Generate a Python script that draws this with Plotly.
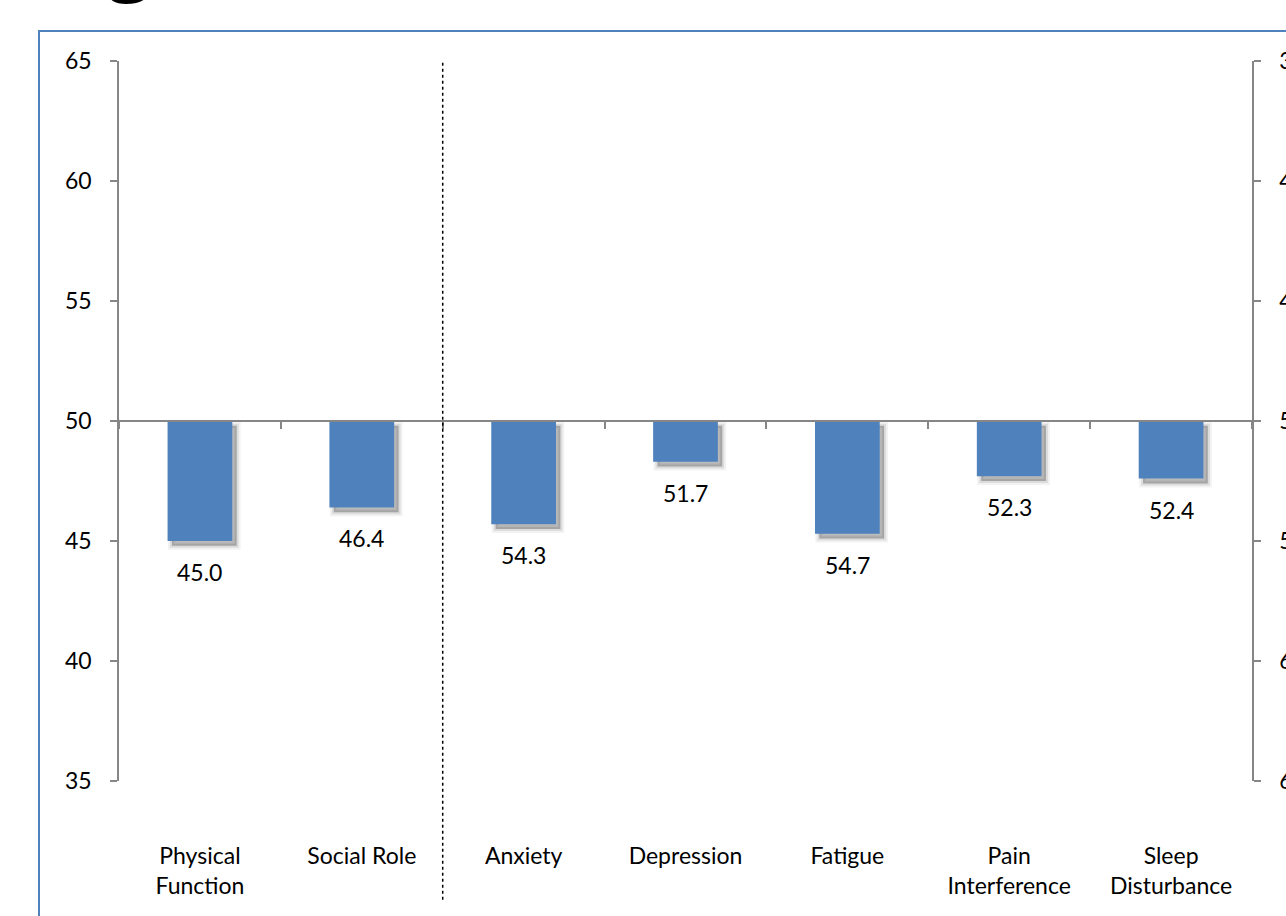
import plotly.graph_objects as go

# ---- data ----
categories = ["Physical Function", "Social Role", "Anxiety", "Depression",
              "Fatigue", "Pain Interference", "Sleep Disturbance"]
tick_labels = ["Physical<br>Function", "Social Role", "Anxiety", "Depression",
               "Fatigue", "Pain<br>Interference", "Sleep<br>Disturbance"]
left_categories = ["Physical Function", "Social Role"]
left_values = [45.0, 46.4]
right_categories = ["Anxiety", "Depression", "Fatigue", "Pain Interference", "Sleep Disturbance"]
right_values = [54.3, 51.7, 54.7, 52.3, 52.4]
reference_value = 50
left_ticks = [35, 40, 45, 50, 55, 60, 65]
right_ticks = [35, 40, 45, 50, 55, 60, 65]
heading_fragment = "g"   # cut-off heading above the chart

# ---- style ----
BAR_COLOR = "#4F81BD"
AXIS_COLOR = "#868686"
FONT = "Lato"
FS = 23
BAR_W = 0.4
SH_DX = 0.027      # shadow offset in category units
SH_DY = 0.2        # shadow offset in value units

fig = go.Figure()

# soft shadows (layers from wide/faint to core)
shadow_layers = [(8, "rgba(0,0,0,0.05)"), (4, "rgba(0,0,0,0.09)"), (0, "rgba(0,0,0,0)")]
for lw, lc in shadow_layers:
    core = "rgba(0,0,0,0.25)" if lw == 0 else "rgba(0,0,0,0.0)"
    fig.add_trace(go.Bar(
        x=left_categories, y=[v - reference_value for v in left_values],
        base=reference_value - SH_DY, width=BAR_W, offset=-BAR_W / 2 + SH_DX,
        marker=dict(color=core, line=dict(color=lc, width=lw)),
        yaxis="y", hoverinfo="skip", showlegend=False))
    fig.add_trace(go.Bar(
        x=right_categories, y=[v - reference_value for v in right_values],
        base=reference_value + SH_DY, width=BAR_W, offset=-BAR_W / 2 + SH_DX,
        marker=dict(color=core, line=dict(color=lc, width=lw)),
        yaxis="y2", hoverinfo="skip", showlegend=False))

# bars
fig.add_trace(go.Bar(
    x=left_categories, y=[v - reference_value for v in left_values],
    base=reference_value, width=BAR_W, offset=-BAR_W / 2,
    marker=dict(color=BAR_COLOR, line=dict(width=0)),
    yaxis="y", showlegend=False))
fig.add_trace(go.Bar(
    x=right_categories, y=[v - reference_value for v in right_values],
    base=reference_value, width=BAR_W, offset=-BAR_W / 2,
    marker=dict(color=BAR_COLOR, line=dict(width=0)),
    yaxis="y2", showlegend=False))

annotations = []
for c, v in zip(left_categories, left_values):
    annotations.append(dict(x=c, y=v, xref="x", yref="y", text=f"{v:.1f}",
                            showarrow=False, yanchor="middle", yshift=-31,
                            font=dict(family=FONT, size=FS, color="black")))
for c, v in zip(right_categories, right_values):
    annotations.append(dict(x=c, y=v, xref="x", yref="y2", text=f"{v:.1f}",
                            showarrow=False, yanchor="middle", yshift=-31,
                            font=dict(family=FONT, size=FS, color="black")))
# cut-off heading fragment at the very top
annotations.append(dict(x=0.0097, y=1.0705, xref="paper", yref="paper",
                        text=f"<b>{heading_fragment}</b>", showarrow=False,
                        xanchor="center", yanchor="bottom",
                        font=dict(family="Open Sans", size=76, color="black")))

shapes = [
    # separator between the two groups
    dict(type="line", xref="x", yref="paper", x0=1.5, x1=1.5, y0=-0.165, y1=1.0,
         line=dict(color="black", width=1.5, dash="dot")),
    # outer chart border
    dict(type="rect", xref="paper", yref="paper", x0=-0.0706, x1=1.3, y0=-0.6, y1=1.0417,
         line=dict(color=BAR_COLOR, width=2), fillcolor="rgba(0,0,0,0)", layer="below"),
]

fig.update_layout(
    width=1286, height=916,
    margin=dict(l=119, r=34, t=61, b=135, autoexpand=False),
    paper_bgcolor="white", plot_bgcolor="white",
    barmode="overlay",
    font=dict(family=FONT, size=FS, color="black"),
    xaxis=dict(
        type="category", categoryorder="array", categoryarray=categories,
        tickvals=categories, ticktext=tick_labels,
        range=[-0.5, len(categories) - 0.5],
        anchor="free", position=0.5,
        showline=True, linecolor=AXIS_COLOR, linewidth=1.5,
        ticks="outside", ticklen=7, tickcolor=AXIS_COLOR, tickwidth=1.5,
        tickson="boundaries", ticklabelstandoff=415,
        showgrid=False, zeroline=False, automargin=False,
        tickfont=dict(family=FONT, size=FS, color="black"),
    ),
    yaxis=dict(
        range=[35, 65], tickvals=left_ticks,
        showline=True, linecolor=AXIS_COLOR, linewidth=1.5,
        ticks="outside", ticklen=7, tickcolor=AXIS_COLOR, tickwidth=1.5,
        ticklabelstandoff=14, showgrid=False, zeroline=False, automargin=False,
        tickfont=dict(family=FONT, size=FS, color="black"),
    ),
    yaxis2=dict(
        range=[65, 35], tickvals=right_ticks, overlaying="y", side="right",
        showline=True, linecolor=AXIS_COLOR, linewidth=1.5,
        ticks="outside", ticklen=7, tickcolor=AXIS_COLOR, tickwidth=1.5,
        ticklabelstandoff=14, showgrid=False, zeroline=False, automargin=False,
        tickfont=dict(family=FONT, size=FS, color="black"),
    ),
    annotations=annotations,
    shapes=shapes,
)

fig.write_html("out.html")
